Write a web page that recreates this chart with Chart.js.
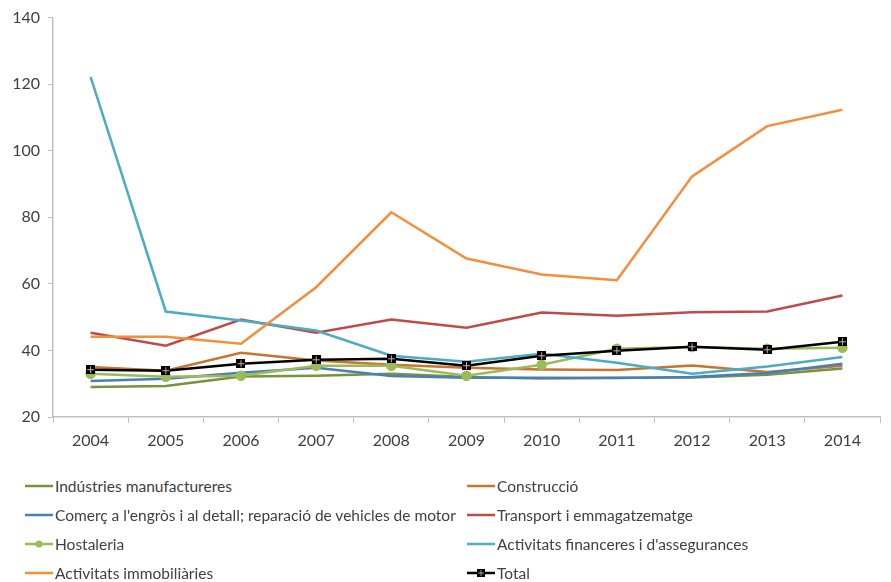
<html lang="ca">
<head>
    <meta charset="UTF-8">
    <title>Evolució per sectors</title>
    <script src="https://cdn.jsdelivr.net/npm/chart.js"></script>
    <style>
        body {
            margin: 0;
            background: #fff;
            font-family: Lato, sans-serif;
        }
        #wrap {
            position: relative;
            width: 891px;
            height: 460px;
        }
        #legend {
            position: absolute;
            left: 25px;
            top: 474px;
            width: 866px;
            display: grid;
            grid-template-columns: 442px 424px;
            grid-auto-rows: 29px;
            font-size: 15.5px;
            color: #404040;
        }
        .item {
            display: flex;
            align-items: center;
            height: 24px;
            white-space: nowrap;
        }
        .item canvas {
            margin-right: 2px;
        }
    </style>
</head>
<body>
    <div id="wrap"><canvas id="chart"></canvas></div>
    <div id="legend"></div>

    <script>
        const years = ['2004', '2005', '2006', '2007', '2008', '2009', '2010', '2011', '2012', '2013', '2014'];
        const yTicks = [20, 40, 60, 80, 100, 120, 140];

        const manufactureres = [29.0, 29.3, 32.2, 32.4, 33.0, 32.0, 31.6, 31.8, 31.9, 32.7, 34.6];
        const construccio = [35.0, 33.9, 39.3, 37.0, 35.7, 34.8, 34.3, 34.1, 35.5, 33.5, 35.4];
        const comerc = [30.8, 31.5, 33.3, 34.8, 32.3, 31.8, 31.8, 31.7, 32.0, 33.2, 36.0];
        const transport = [45.3, 41.4, 49.3, 45.3, 49.3, 46.8, 51.4, 50.4, 51.5, 51.7, 56.5];
        const hostaleria = [33.0, 32.1, 32.4, 35.4, 35.4, 32.4, 35.7, 40.5, 41.0, 40.5, 40.8];
        const financeres = [122.2, 51.7, 49.0, 46.0, 38.4, 36.6, 39.0, 36.3, 33.0, 35.2, 38.0];
        const immobiliaries = [44.1, 44.1, 42.0, 59.0, 81.5, 67.6, 62.8, 61.1, 92.3, 107.4, 112.3];
        const total = [34.2, 33.9, 36.0, 37.2, 37.5, 35.4, 38.4, 39.9, 41.1, 40.2, 42.6];

        // marcador del total: quadrat negre amb creu
        function totalMarker() {
            const c = document.createElement('canvas');
            c.width = 9; c.height = 9;
            const g = c.getContext('2d');
            g.fillStyle = '#000';
            g.fillRect(0, 0, 9, 9);
            g.fillStyle = '#D9A6B0';
            g.fillRect(4, 1, 1, 7);
            g.fillRect(1, 4, 7, 1);
            return c;
        }
        const marker = totalMarker();

        const series = [
            { label: 'Indústries manufactureres', data: manufactureres, color: '#77933C' },
            { label: 'Construcció', data: construccio, color: '#C8752F' },
            { label: "Comerç a l'engròs i al detall; reparació de vehicles de motor", data: comerc, color: '#4A7EBB' },
            { label: 'Transport i emmagatzematge', data: transport, color: '#BE4B48' },
            { label: 'Hostaleria', data: hostaleria, color: '#9BBB59', point: 'circle' },
            { label: "Activitats financeres i d'assegurances", data: financeres, color: '#4BACC6' },
            { label: 'Activitats immobiliàries', data: immobiliaries, color: '#F28E3C' },
            { label: 'Total', data: total, color: '#000000', point: marker }
        ];

        const datasets = series.map((s, i) => ({
            label: s.label,
            data: s.data,
            borderColor: s.color,
            backgroundColor: s.color,
            borderWidth: 2.5,
            tension: 0,
            pointStyle: s.point || false,
            pointRadius: s.point ? 4 : 0,
            pointHoverRadius: s.point ? 4 : 0,
            order: series.length - i // l'últim queda a sobre
        }));

        const tickFont = { family: 'Lato', size: 16 };

        new Chart(document.getElementById('chart'), {
            type: 'line',
            data: { labels: years, datasets: datasets },
            options: {
                responsive: true,
                maintainAspectRatio: false,
                animation: false,
                layout: { padding: { top: 13, right: 11, left: 0, bottom: 0 } },
                plugins: {
                    legend: { display: false },
                    tooltip: { enabled: false }
                },
                scales: {
                    x: {
                        offset: true,
                        grid: {
                            offset: true,
                            drawOnChartArea: false,
                            drawTicks: true,
                            tickLength: 6,
                            color: '#BFBFBF'
                        },
                        border: { color: '#BFBFBF', width: 1.5 },
                        ticks: { color: '#404040', font: tickFont, padding: 8, maxRotation: 0 },
                        afterFit: s => { s.height = 43; }
                    },
                    y: {
                        min: 20,
                        max: 140,
                        afterBuildTicks: s => { s.ticks = yTicks.map(v => ({ value: v })); },
                        grid: {
                            drawOnChartArea: false,
                            drawTicks: true,
                            tickLength: 5,
                            color: '#BFBFBF'
                        },
                        border: { color: '#BFBFBF', width: 1.5 },
                        ticks: { color: '#404040', font: tickFont, padding: 8 },
                        afterFit: s => { s.width = 53; }
                    }
                }
            }
        });

        // llegenda en dues columnes
        const legend = document.getElementById('legend');
        series.forEach(s => {
            const item = document.createElement('div');
            item.className = 'item';
            const c = document.createElement('canvas');
            c.width = 28; c.height = 12;
            const g = c.getContext('2d');
            g.strokeStyle = s.color;
            g.lineWidth = 2.5;
            g.beginPath(); g.moveTo(0, 6); g.lineTo(28, 6); g.stroke();
            if (s.point === 'circle') {
                g.fillStyle = s.color;
                g.beginPath(); g.arc(14, 6, 3.5, 0, Math.PI * 2); g.fill();
            } else if (s.point) {
                g.drawImage(s.point, 10, 2, 8, 8);
            }
            item.appendChild(c);
            const t = document.createElement('span');
            t.textContent = s.label;
            item.appendChild(t);
            legend.appendChild(item);
        });
    </script>
</body>
</html>
